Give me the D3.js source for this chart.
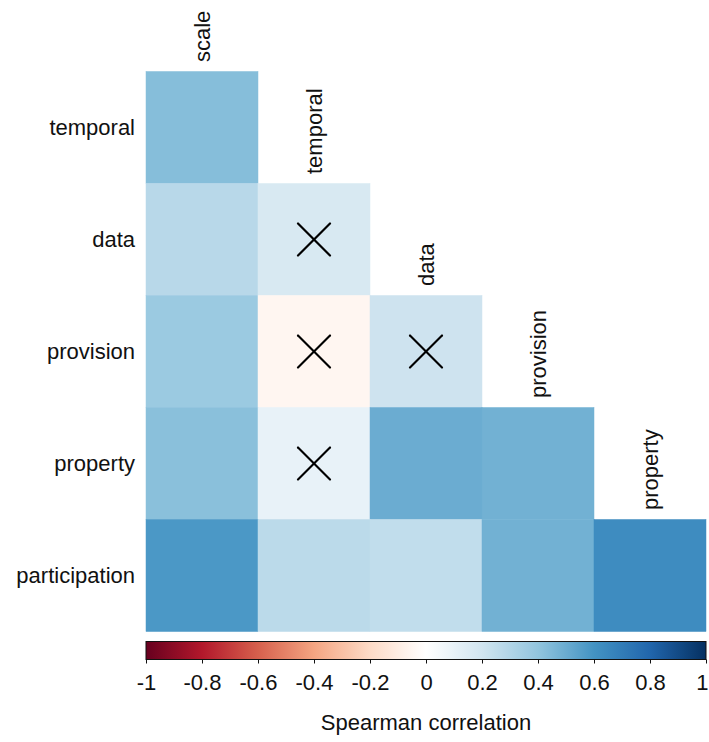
<!DOCTYPE html>
<html>
<head>
<meta charset="utf-8">
<script src="https://cdn.jsdelivr.net/npm/d3@7"></script>
<style>
  html, body { margin: 0; padding: 0; background: #fff; }
  svg { display: block; font-family: "Liberation Sans", Arial, Helvetica, sans-serif; }
</style>
</head>
<body>
<svg id="chart" width="709" height="742"></svg>
<script>
// Variables (rows of the lower triangle, columns across the top)
const rowLabels = ["temporal", "data", "provision", "property", "participation"];
const colLabels = ["scale", "temporal", "data", "provision", "property"];

// Spearman correlations, one array per row (lower triangle)
const rhoTemporal      = [0.43];
const rhoData          = [0.28, 0.17];
const rhoProvision     = [0.37, -0.05, 0.21];
const rhoProperty      = [0.42, 0.10, 0.50, 0.48];
const rhoParticipation = [0.58, 0.27, 0.25, 0.48, 0.63];

// Non-significant pairs (crossed out): [row, column]
const insignificant = [
  ["data", "temporal"],
  ["provision", "temporal"],
  ["provision", "data"],
  ["property", "temporal"]
];

// Colour bar ticks
const legendTicks = [-1, -0.8, -0.6, -0.4, -0.2, 0, 0.2, 0.4, 0.6, 0.8, 1];

// RdBu diverging palette
const paletteStops = ["#67001F", "#B2182B", "#D6604D", "#F4A582", "#FDDBC7", "#FFFFFF",
                      "#D1E5F0", "#92C5DE", "#4393C3", "#2166AC", "#053061"];

const rowValues = [rhoTemporal, rhoData, rhoProvision, rhoProperty, rhoParticipation];
const cells = [];
rowValues.forEach((vals, i) => {
  vals.forEach((v, j) => cells.push({ row: rowLabels[i], col: colLabels[j], value: v }));
});

const svg = d3.select("#chart");
const fontSize = 22;

const gridLeft = 146, gridTop = 71.5, gridSize = 560;
const x = d3.scaleBand().domain(colLabels).range([gridLeft, gridLeft + gridSize]);
const y = d3.scaleBand().domain(rowLabels).range([gridTop, gridTop + gridSize]);

const color = d3.scaleLinear()
  .domain(paletteStops.map((_, i) => -1 + i * 0.2))
  .range(paletteStops)
  .interpolate(d3.interpolateRgb);

// Cells
svg.append("g")
  .selectAll("rect")
  .data(cells)
  .join("rect")
  .attr("x", d => x(d.col))
  .attr("y", d => y(d.row))
  .attr("width", x.bandwidth())
  .attr("height", y.bandwidth())
  .attr("fill", d => color(d.value))
  .attr("stroke", d => color(d.value))
  .attr("stroke-width", 0.5);

// Crosses over non-significant correlations
const half = 16;
const crosses = svg.append("g").attr("stroke", "#000").attr("stroke-width", 2.2).attr("stroke-linecap", "round");
insignificant.forEach(([r, c]) => {
  const cx = x(c) + x.bandwidth() / 2;
  const cy = y(r) + y.bandwidth() / 2;
  crosses.append("line").attr("x1", cx - half).attr("y1", cy - half).attr("x2", cx + half).attr("y2", cy + half);
  crosses.append("line").attr("x1", cx - half).attr("y1", cy + half).attr("x2", cx + half).attr("y2", cy - half);
});

// Row labels
svg.append("g")
  .selectAll("text")
  .data(rowLabels)
  .join("text")
  .attr("x", gridLeft - 11)
  .attr("y", d => y(d) + y.bandwidth() / 2)
  .attr("text-anchor", "end")
  .attr("dominant-baseline", "central")
  .attr("font-size", fontSize)
  .attr("fill", "#111")
  .text(d => d);

// Column labels, rotated, above the top cell of each column
svg.append("g")
  .selectAll("text")
  .data(colLabels)
  .join("text")
  .attr("transform", (d, j) => {
    const cx = x(d) + x.bandwidth() / 2;
    const cy = y(rowLabels[j]) - 9.5;
    return `translate(${cx},${cy}) rotate(-90)`;
  })
  .attr("text-anchor", "start")
  .attr("dominant-baseline", "central")
  .attr("font-size", fontSize)
  .attr("fill", "#111")
  .text(d => d);

// Colour bar
const barTop = 641.5, barH = 18;
const lx = d3.scaleLinear().domain([-1, 1]).range([gridLeft, gridLeft + gridSize]);
const grad = svg.append("defs").append("linearGradient").attr("id", "rdbu").attr("x1", "0%").attr("x2", "100%");
d3.range(0, 1.0001, 0.02).forEach(t => {
  grad.append("stop").attr("offset", (t * 100) + "%").attr("stop-color", color(-1 + 2 * t));
});
svg.append("rect")
  .attr("x", lx(-1)).attr("y", barTop)
  .attr("width", lx(1) - lx(-1)).attr("height", barH)
  .attr("fill", "url(#rdbu)")
  .attr("stroke", "#111").attr("stroke-width", 1);

const axis = d3.axisBottom(lx).tickValues(legendTicks).tickSize(4).tickPadding(11)
  .tickFormat(d => String(+d.toFixed(1)));
const ag = svg.append("g").attr("transform", `translate(0,${barTop + barH})`).call(axis);
ag.select(".domain").remove();
ag.selectAll(".tick line").attr("stroke", "#111").attr("stroke-width", 1);
ag.selectAll(".tick text").attr("font-size", fontSize).attr("fill", "#111")
  .attr("font-family", "'Liberation Sans', Arial, Helvetica, sans-serif");
// keep the end label inside the page edge
ag.selectAll(".tick text").filter(d => d === 1).attr("text-anchor", "end").attr("dx", 2);

svg.append("text")
  .attr("x", lx(0))
  .attr("y", 730)
  .attr("text-anchor", "middle")
  .attr("font-size", fontSize)
  .attr("fill", "#111")
  .text("Spearman correlation");
</script>
</body>
</html>
